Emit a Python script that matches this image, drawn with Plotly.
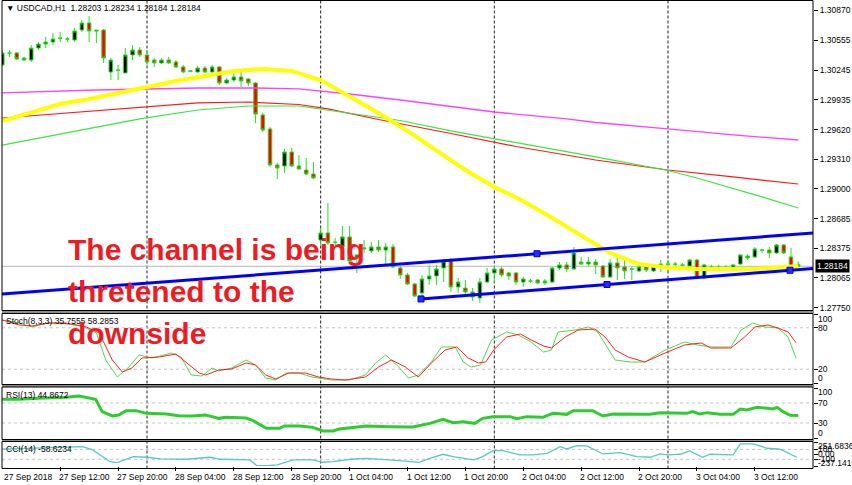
import numpy as np
import plotly.graph_objects as go

W, H = 852, 485


def px(x):
    return x / W


def py(y):
    return 1 - y / H


# ---------------- DATA ----------------
# bar index = trading hours counted from 27 Sep 2018 00:00 (H1 bars)
bars = list(range(4, 115))

opens = [
    1.30298, 1.30424, 1.30424, 1.30371, 1.30350, 1.30476, 1.30518, 1.30539, 1.30581, 1.30571,
    1.30560, 1.30665, 1.30739, 1.30665, 1.30665, 1.30224, 1.30245, 1.30214, 1.30403, 1.30455,
    1.30403, 1.30350, 1.30319, 1.30350, 1.30329, 1.30277, 1.30236, 1.30224, 1.30266, 1.30224,
    1.30277, 1.30109, 1.30140, 1.30172, 1.30151, 1.30109, 1.29773, 1.29626, 1.29248, 1.29237,
    1.29384, 1.29237, 1.29195, 1.29153, 1.28460, 1.28534, 1.28439, 1.28387, 1.28492, 1.28282,
    1.28366, 1.28345, 1.28387, 1.28355, 1.28387, 1.28166, 1.28093, 1.27998, 1.27904, 1.28051,
    1.28082, 1.28166, 1.28250, 1.27967, 1.27956, 1.27914, 1.27851, 1.28019, 1.28114, 1.28156,
    1.28114, 1.28114, 1.28019, 1.28030, 1.28040, 1.28030, 1.28019, 1.28166, 1.28198, 1.28156,
    1.28229, 1.28208, 1.28229, 1.28187, 1.28072, 1.28219, 1.28177, 1.28156, 1.28135, 1.28177,
    1.28135, 1.28177, 1.28208, 1.28208, 1.28198, 1.28187, 1.28250, 1.28061, 1.28177, 1.28177,
    1.28177, 1.28145, 1.28208, 1.28292, 1.28282, 1.28355, 1.28355, 1.28324, 1.28408, 1.28282, 1.28203,
]
highs = [
    1.30455, 1.30455, 1.30434, 1.30382, 1.30508, 1.30539, 1.30592, 1.30634, 1.30644, 1.30592,
    1.30686, 1.30770, 1.30812, 1.30665, 1.30676, 1.30371, 1.30298, 1.30476, 1.30508, 1.30487,
    1.30455, 1.30371, 1.30371, 1.30382, 1.30350, 1.30298, 1.30245, 1.30287, 1.30287, 1.30298,
    1.30287, 1.30161, 1.30224, 1.30224, 1.30161, 1.30119, 1.29794, 1.29647, 1.29269, 1.29416,
    1.29426, 1.29353, 1.29321, 1.29279, 1.28586, 1.28849, 1.28481, 1.28607, 1.28607, 1.28303,
    1.28460, 1.28439, 1.28460, 1.28429, 1.28418, 1.28187, 1.28114, 1.28009, 1.28093, 1.28198,
    1.28198, 1.28261, 1.28271, 1.28061, 1.28040, 1.27956, 1.28061, 1.28166, 1.28177, 1.28177,
    1.28124, 1.28124, 1.28072, 1.28051, 1.28051, 1.28051, 1.28177, 1.28229, 1.28229, 1.28387,
    1.28282, 1.28282, 1.28261, 1.28198, 1.28261, 1.28282, 1.28261, 1.28177, 1.28187, 1.28187,
    1.28208, 1.28250, 1.28250, 1.28229, 1.28219, 1.28261, 1.28261, 1.28208, 1.28198, 1.28198,
    1.28198, 1.28208, 1.28313, 1.28313, 1.28387, 1.28366, 1.28387, 1.28418, 1.28418, 1.28376, 1.28234,
]
lows = [
    1.30287, 1.30382, 1.30350, 1.30340, 1.30329, 1.30455, 1.30476, 1.30508, 1.30539, 1.30539,
    1.30539, 1.30644, 1.30539, 1.30529, 1.30319, 1.30140, 1.30140, 1.30214, 1.30350, 1.30382,
    1.30298, 1.30277, 1.30308, 1.30308, 1.30266, 1.30214, 1.30224, 1.30214, 1.30214, 1.30214,
    1.30088, 1.30098, 1.30119, 1.30067, 1.30077, 1.29689, 1.29594, 1.29227, 1.29101, 1.29164,
    1.29227, 1.29195, 1.29143, 1.29101, 1.28408, 1.28408, 1.28387, 1.28376, 1.28229, 1.28114,
    1.28324, 1.28324, 1.28334, 1.28198, 1.28166, 1.28051, 1.27988, 1.27862, 1.27809, 1.27988,
    1.27988, 1.28019, 1.27914, 1.27904, 1.27862, 1.27820, 1.27799, 1.28009, 1.28009, 1.28072,
    1.28040, 1.27988, 1.27967, 1.28009, 1.27998, 1.27988, 1.28009, 1.28145, 1.28124, 1.28145,
    1.28198, 1.28187, 1.28103, 1.28061, 1.28061, 1.28040, 1.28051, 1.28040, 1.28124, 1.28124,
    1.28124, 1.28124, 1.28124, 1.28156, 1.28156, 1.28177, 1.28051, 1.28051, 1.28135, 1.28135,
    1.28135, 1.28135, 1.28198, 1.28250, 1.28271, 1.28324, 1.28271, 1.28313, 1.28313, 1.28124, 1.28184,
]
closes = [
    1.30424, 1.30422, 1.30361, 1.30350, 1.30476, 1.30518, 1.30539, 1.30571, 1.30579, 1.30571,
    1.30655, 1.30739, 1.30655, 1.30655, 1.30371, 1.30350, 1.30243, 1.30403, 1.30455, 1.30403,
    1.30329, 1.30319, 1.30350, 1.30319, 1.30277, 1.30224, 1.30232, 1.30266, 1.30224, 1.30277,
    1.30109, 1.30140, 1.30172, 1.30130, 1.30109, 1.29783, 1.29615, 1.29248, 1.29216, 1.29384,
    1.29237, 1.29206, 1.29153, 1.29111, 1.28534, 1.28429, 1.28434, 1.28492, 1.28240, 1.28303,
    1.28376, 1.28387, 1.28355, 1.28387, 1.28177, 1.28093, 1.27998, 1.27872, 1.28051, 1.28082,
    1.28156, 1.28240, 1.27967, 1.28019, 1.27914, 1.27862, 1.28019, 1.28114, 1.28156, 1.28093,
    1.28082, 1.28019, 1.28051, 1.28028, 1.28009, 1.28009, 1.28166, 1.28198, 1.28156, 1.28324,
    1.28208, 1.28229, 1.28198, 1.28072, 1.28219, 1.28166, 1.28135, 1.28154, 1.28177, 1.28145,
    1.28187, 1.28208, 1.28206, 1.28206, 1.28196, 1.28250, 1.28061, 1.28198, 1.28175, 1.28175,
    1.28156, 1.28198, 1.28303, 1.28271, 1.28366, 1.28353, 1.28324, 1.28408, 1.28324, 1.28177, 1.28184,
]

# moving averages (sampled at bar indices)
yel_idx = [4, 8, 12, 16, 20, 24, 28, 32, 36, 40, 44, 48, 52, 56, 60, 64, 68, 72, 76, 80,
           84, 88, 92, 96, 100, 104, 108, 112, 114]
yel_val = [1.29710, 1.29794, 1.29888, 1.29941, 1.30004, 1.30067, 1.30130, 1.30182, 1.30235,
           1.30256, 1.30235, 1.30140, 1.29972, 1.29794, 1.29605, 1.29395, 1.29195, 1.29017,
           1.28870, 1.28691, 1.28502, 1.28324, 1.28208, 1.28171, 1.28156, 1.28156, 1.28156,
           1.28177, 1.28187]
mag_idx = [4, 17, 31, 39, 45, 52, 59, 72, 82, 86, 96, 105, 114]
mag_val = [1.30004, 1.30035, 1.30056, 1.30056, 1.30046, 1.29993, 1.29930, 1.29804, 1.29731,
           1.29694, 1.29626, 1.29563, 1.29510]
red_idx = [4, 17, 31, 38, 45, 49, 56, 66, 75, 86, 96, 105, 114]
red_val = [1.29741, 1.29820, 1.29899, 1.29909, 1.29883, 1.29836, 1.29725, 1.29578, 1.29442,
           1.29300, 1.29195, 1.29122, 1.29048]
grn_idx = [4, 23, 31, 38, 45, 52, 59, 66, 75, 86, 96, 100, 109, 114]
grn_val = [1.29457, 1.29731, 1.29825, 1.29867, 1.29867, 1.29788, 1.29715, 1.29605, 1.29484,
           1.29332, 1.29190, 1.29111, 1.28912, 1.28796]

# channel trendlines (time index, price)
upper_line_idx = [3.96, 116.04]
upper_line_val = [1.27893, 1.28534]
lower_line_idx = [61.87, 116.04]
lower_line_val = [1.27841, 1.28161]
upper_anchor_idx = [77.9]
lower_anchor_idx = [61.87, 87.57, 112.86]

last_price = 1.28184
price_ticks = [1.30870, 1.30555, 1.30245, 1.29935, 1.29620, 1.29310, 1.29000,
               1.28685, 1.28375, 1.28065, 1.27750]

# Stochastic (8,3,3)
stoch_k_idx = [4.0, 6.3, 8.1, 10.1, 12.8, 15.0, 17.0, 18.3, 19.9, 21.5, 22.9, 24.7, 27.4, 28.7,
               30.1, 31.6, 33.0, 33.9, 35.7, 37.7, 39.0, 40.4, 41.8, 43.2, 45.0, 46.8, 49.5, 51.9,
               54.2, 55.6, 57.0, 58.8, 60.1, 61.5, 63.3, 64.7, 66.6, 67.7, 68.8, 70.1, 71.6, 73.7,
               75.3, 77.1, 78.8, 79.9, 80.8, 83.2, 85.0, 86.3, 88.7, 90.8, 92.8, 95.6, 98.3, 100.1,
               101.9, 104.7, 106.1, 107.7, 109.4, 111.2, 112.6, 113.7]
stoch_k_val = [91.3, 87.0, 81.2, 87.0, 85.5, 82.6, 72.5, 33.3, 8.7, 23.2, 40.6, 36.2, 43.5, 37.7,
               11.6, 10.1, 21.7, 17.4, 21.7, 33.3, 26.1, 7.2, 4.3, 14.5, 14.5, 8.7, 4.3, 4.3,
               11.6, 29.0, 40.6, 23.2, 7.2, 11.6, 30.4, 52.2, 52.2, 30.4, 23.2, 26.1, 62.3, 73.9,
               69.6, 59.4, 44.9, 47.8, 73.9, 76.8, 81.2, 73.9, 33.3, 30.4, 30.4, 47.8, 59.4, 55.1,
               52.2, 52.2, 76.8, 87.0, 81.2, 79.7, 66.7, 35.8]
stoch_d_idx = [4.0, 6.3, 8.1, 10.5, 12.8, 15.6, 17.4, 19.2, 20.6, 21.9, 23.3, 25.7, 28.0, 29.4,
               31.2, 32.1, 33.9, 35.7, 37.7, 39.0, 40.4, 41.8, 43.6, 45.9, 47.7, 49.5, 51.4, 54.2,
               56.0, 57.8, 59.7, 61.5, 63.3, 65.2, 66.8, 68.4, 69.8, 70.8, 71.9, 73.7, 75.6, 77.1,
               78.8, 79.9, 81.8, 83.6, 85.9, 87.3, 88.7, 90.5, 92.8, 95.6, 98.3, 100.6, 101.9, 104.7,
               106.6, 108.0, 109.8, 111.2, 112.6, 113.7]
stoch_d_val = [91.3, 84.1, 82.6, 87.0, 87.0, 81.2, 72.5, 33.3, 15.9, 21.7, 36.2, 37.7, 42.0, 30.4,
               14.5, 11.6, 18.8, 20.3, 29.0, 26.1, 11.6, 5.8, 14.5, 14.5, 8.7, 5.8, 4.3, 8.7,
               23.2, 33.3, 23.2, 8.7, 29.0, 47.8, 52.2, 36.2, 29.0, 30.4, 47.8, 66.7, 71.0, 62.3,
               53.6, 50.7, 66.7, 76.8, 78.3, 66.7, 47.8, 37.7, 30.4, 43.5, 55.1, 58.0, 50.7, 50.7,
               66.7, 81.2, 84.1, 79.7, 73.9, 58.3]

# RSI(13)
rsi_idx = [3.6, 6.3, 9.0, 12.8, 14.6, 16.9, 17.8, 19.2, 20.1, 21.1, 22.5, 23.9, 26.7, 28.4,
           30.2, 32.1, 33.0, 33.9, 34.9, 37.7, 38.5, 40.5, 42.3, 43.0, 45.1, 46.9, 48.3, 49.7,
           50.6, 54.3, 57.5, 60.7, 63.1, 64.9, 66.3, 67.7, 69.3, 70.4, 71.8, 74.2, 75.1, 76.5,
           78.7, 80.1, 82.0, 82.9, 85.6, 87.0, 88.4, 90.3, 93.5, 94.9, 97.6, 98.6, 99.4, 100.4,
           101.4, 103.2, 105.0, 106.0, 106.9, 108.3, 109.7, 110.5, 111.1, 111.9, 112.9, 114.0]
rsi_val = [77.3, 77.3, 79.3, 81.3, 84.0, 77.3, 52.7, 44.0, 46.0, 54.7, 54.7, 49.3, 48.0, 44.7,
           44.0, 46.0, 42.7, 39.3, 41.3, 40.0, 36.0, 19.3, 19.3, 24.0, 24.0, 21.3, 14.0, 14.0,
           18.0, 24.0, 22.7, 22.0, 29.3, 37.3, 30.7, 32.7, 29.3, 39.3, 42.7, 42.7, 38.7, 42.7,
           41.3, 49.3, 47.3, 54.7, 54.7, 44.0, 48.0, 47.3, 47.3, 50.7, 50.7, 49.3, 52.7, 48.0,
           50.7, 47.3, 47.3, 58.0, 56.0, 61.3, 59.3, 58.0, 61.3, 52.7, 45.3, 44.9]

# CCI(14)
cci_idx = [3.6, 8.2, 12.9, 15.1, 16.5, 18.9, 19.9, 22.1, 24.0, 25.8, 29.5, 32.7, 34.1, 36.9,
           38.2, 39.2, 40.6, 42.0, 44.2, 46.9, 48.3, 49.7, 52.1, 54.3, 56.6, 58.9, 61.6, 63.1,
           64.9, 66.3, 69.1, 70.4, 71.8, 73.2, 75.5, 77.3, 79.3, 81.1, 82.0, 83.4, 84.8, 87.0,
           89.4, 91.7, 93.5, 94.9, 95.9, 97.7, 99.0, 100.8, 101.8, 103.6, 105.0, 106.0, 107.8,
           109.7, 111.5, 113.8]
cci_val = [104, 124, 137, 157, 90, -149, -169, -47, -59, -94, -100, -59, -100, -100,
           -114, -232, -232, -216, -114, -114, -161, -149, -100, -80, -100, -129, -165, -80,
           2, -47, -114, -47, 76, 76, -12, -12, 22, 157, 110, 178, 171, 8,
           35, -47, -59, 8, -12, 2, 69, -59, 2, 2, -12, 212, 212,
           124, 104, -58.6]
cci_min, cci_max = -237.1416, 251.6836

time_tick_idx = [4, 12, 20, 28, 36, 44, 52, 60, 68, 76, 84, 92, 100, 108]
time_labels = ["27 Sep 2018", "27 Sep 12:00", "27 Sep 20:00", "28 Sep 04:00", "28 Sep 12:00",
               "28 Sep 20:00", "1 Oct 04:00", "1 Oct 12:00", "1 Oct 20:00", "2 Oct 04:00",
               "2 Oct 12:00", "2 Oct 20:00", "3 Oct 04:00", "3 Oct 12:00"]
day_separators = [24, 48, 72, 96]

for a, b in [(opens, bars), (highs, bars), (lows, bars), (closes, bars),
             (stoch_k_idx, stoch_k_val), (stoch_d_idx, stoch_d_val),
             (rsi_idx, rsi_val), (cci_idx, cci_val), (yel_idx, yel_val)]:
    assert len(a) == len(b)

# ---------------- FIGURE ----------------
FONT = "Liberation Sans, Arial, sans-serif"
fig = go.Figure()

for idx, val, col, wd in [(mag_idx, mag_val, "#ff40ff", 1.3),
                          (red_idx, red_val, "#ff1a1a", 1.2),
                          (grn_idx, grn_val, "#3ce63c", 1.2),
                          (yel_idx, yel_val, "#ffff00", 4)]:
    fig.add_trace(go.Scatter(x=idx, y=val, mode="lines", line=dict(color=col, width=wd),
                             xaxis="x", yaxis="y", hoverinfo="skip"))

fig.add_trace(go.Candlestick(
    x=bars, open=opens, high=highs, low=lows, close=closes,
    increasing=dict(fillcolor="#000000", line=dict(color="#22e022", width=1)),
    decreasing=dict(fillcolor="#ff0000", line=dict(color="#22e022", width=1)),
    whiskerwidth=0, xaxis="x", yaxis="y", hoverinfo="skip"))

# trendlines
fig.add_trace(go.Scatter(x=upper_line_idx, y=upper_line_val, mode="lines",
                         line=dict(color="#0000ff", width=3), xaxis="x", yaxis="y", hoverinfo="skip"))
fig.add_trace(go.Scatter(x=lower_line_idx, y=lower_line_val, mode="lines",
                         line=dict(color="#0000ff", width=3), xaxis="x", yaxis="y", hoverinfo="skip"))
anc_x = upper_anchor_idx + lower_anchor_idx
anc_y = list(np.interp(upper_anchor_idx, upper_line_idx, upper_line_val)) + \
    list(np.interp(lower_anchor_idx, lower_line_idx, lower_line_val))
fig.add_trace(go.Scatter(x=anc_x, y=anc_y, mode="markers",
                         marker=dict(symbol="square", size=6, color="#2a2aff",
                                     line=dict(color="#0000cc", width=1)),
                         xaxis="x", yaxis="y", hoverinfo="skip"))

# indicators
fig.add_trace(go.Scatter(x=stoch_k_idx, y=stoch_k_val, mode="lines",
                         line=dict(color="#4ade4a", width=1), xaxis="x", yaxis="y2", hoverinfo="skip"))
fig.add_trace(go.Scatter(x=stoch_d_idx, y=stoch_d_val, mode="lines",
                         line=dict(color="#ff2020", width=1), xaxis="x", yaxis="y2", hoverinfo="skip"))
fig.add_trace(go.Scatter(x=rsi_idx, y=rsi_val, mode="lines",
                         line=dict(color="#2fcc2f", width=3), xaxis="x", yaxis="y3", hoverinfo="skip"))
fig.add_trace(go.Scatter(x=cci_idx, y=cci_val, mode="lines",
                         line=dict(color="#55c8c8", width=1.3), xaxis="x", yaxis="y4", hoverinfo="skip"))

tickfont = dict(family=FONT, size=8.5, color="#000000")
common_y = dict(side="right", anchor="x", showgrid=False, zeroline=False, showline=False,
                ticks="outside", ticklen=4, tickcolor="#000000", tickwidth=1,
                tickfont=tickfont, fixedrange=True, automargin=False)

fig.update_layout(
    width=W, height=H, margin=dict(l=0, r=0, t=0, b=0, autoexpand=False),
    paper_bgcolor="#ffffff", plot_bgcolor="rgba(0,0,0,0)", showlegend=False,
    xaxis=dict(domain=[px(2), px(813)], range=[3.96, 116.04], anchor="y4",
               showgrid=False, zeroline=False, showline=False, ticks="outside",
               ticklen=4, tickcolor="#000000", tickvals=time_tick_idx[1:],
               showticklabels=False, rangeslider=dict(visible=False), fixedrange=True,
               automargin=False),
    yaxis=dict(domain=[py(311), py(1)], range=[1.277145, 1.309695],
               tickvals=price_ticks, ticktext=[f"{v:.5f}" for v in price_ticks], **common_y),
    yaxis2=dict(domain=[py(383), py(314)], range=[0, 100], tickvals=[100, 80, 20, 0],
                showticklabels=False, **common_y),
    yaxis3=dict(domain=[py(438), py(388)], range=[0, 100], tickvals=[100, 70, 30, 0],
                showticklabels=False, **common_y),
    yaxis4=dict(domain=[py(466), py(442)], range=[cci_min, cci_max],
                tickvals=[cci_max, 100, 0, -100, cci_min], showticklabels=False, **common_y),
)

shapes = []
# period separators
for s in day_separators:
    shapes.append(dict(type="line", xref="x", yref="paper", x0=s, x1=s, y0=py(468.5), y1=py(0.5),
                       line=dict(color="#222222", width=1, dash="3px,2px"), layer="below"))
# level lines
for yr, lv in [("y2", 80), ("y2", 20), ("y3", 70), ("y3", 30), ("y4", 100), ("y4", -100)]:
    shapes.append(dict(type="line", xref="paper", yref=yr, x0=px(2), x1=px(813), y0=lv, y1=lv,
                       line=dict(color="#c4c4c4", width=1, dash="3px,3px"), layer="below"))
# current price line
shapes.append(dict(type="line", xref="paper", yref="y", x0=px(2), x1=px(813),
                   y0=last_price, y1=last_price, line=dict(color="#b8b8b8", width=1), layer="below"))
# separators and frames
for y0, y1 in [(310.5, 313.5), (384.5, 387), (439.5, 441.5)]:
    shapes.append(dict(type="rect", xref="paper", yref="paper", x0=px(2), x1=px(814),
                       y0=py(y1), y1=py(y0), fillcolor="#8c8c8c", line=dict(width=0)))
for y0, y1 in [(0.5, 310.5), (313.5, 384.5), (387, 439.5), (441.5, 468.5)]:
    shapes.append(dict(type="rect", xref="paper", yref="paper", x0=px(2), x1=px(813),
                       y0=py(y1), y1=py(y0), line=dict(color="#000000", width=1),
                       fillcolor="rgba(0,0,0,0)"))
fig.update_layout(shapes=shapes)

ann = []
small = dict(family=FONT, size=8.5, color="#000000")
ann.append(dict(text="▼ USDCAD,H1&nbsp; 1.28203 1.28234 1.28184 1.28184", xref="paper", yref="paper",
                x=px(4), y=py(8), xanchor="left", yanchor="middle", showarrow=False, font=small))
ann.append(dict(text="Stoch(8,3,3) 35.7555 58.2853", xref="paper", yref="paper",
                x=px(4), y=py(321), xanchor="left", yanchor="middle", showarrow=False, font=small))
ann.append(dict(text="RSI(13) 44.8672", xref="paper", yref="paper",
                x=px(4), y=py(395), xanchor="left", yanchor="middle", showarrow=False, font=small))
ann.append(dict(text="CCI(14) -58.6234", xref="paper", yref="paper",
                x=px(4), y=py(449), xanchor="left", yanchor="middle", showarrow=False, font=small))

# right-hand labels of sub-windows
for yr, val, txt, sh in [("y2", 100, "100", -5), ("y2", 80, "80", 0), ("y2", 20, "20", 0),
                         ("y2", 0, "0", 5),
                         ("y3", 100, "100", -4), ("y3", 70, "70", 0), ("y3", 30, "30", 0),
                         ("y3", 0, "0", 5),
                         ("y4", cci_max, "251.6836", -4), ("y4", 100, "100", 0),
                         ("y4", 0, "0.00", 0), ("y4", -100, "-100", 0),
                         ("y4", cci_min, "-237.1416", 3)]:
    ann.append(dict(text=txt, xref="paper", yref=yr, x=px(816), y=val, yshift=sh,
                    xanchor="left", yanchor="middle", showarrow=False, font=small))

# current price box
ann.append(dict(text="1.28184", xref="paper", yref="y", x=px(815), y=last_price,
                xanchor="left", yanchor="middle", showarrow=False,
                font=dict(family=FONT, size=8.5, color="#ffffff"), bgcolor="#000000",
                borderpad=1))

# time labels
for i, (t, lab) in enumerate(zip(time_tick_idx, time_labels)):
    ann.append(dict(text=lab, xref="x", yref="paper", x=t, y=py(477), xshift=(0 if i == 0 else -3),
                    xanchor="left", yanchor="middle", showarrow=False, font=small))

# big red comment
red_font = dict(family="Liberation Sans, Arial, sans-serif", size=30, color="#ec1c24")
for txt, yy in [("<b>The channel is being</b>", 249.5), ("<b>thretened to the</b>", 291.5),
                ("<b>downside</b>", 333.5)]:
    ann.append(dict(text=txt, xref="paper", yref="paper", x=px(66), y=py(yy),
                    xanchor="left", yanchor="middle", showarrow=False, font=red_font))

fig.update_layout(annotations=ann)

fig.write_html(
    "out.html",
    config={"displayModeBar": False, "responsive": False},
    post_script="document.body.style.margin='0';document.body.style.padding='0';"
                "document.documentElement.style.overflow='hidden';",
)
